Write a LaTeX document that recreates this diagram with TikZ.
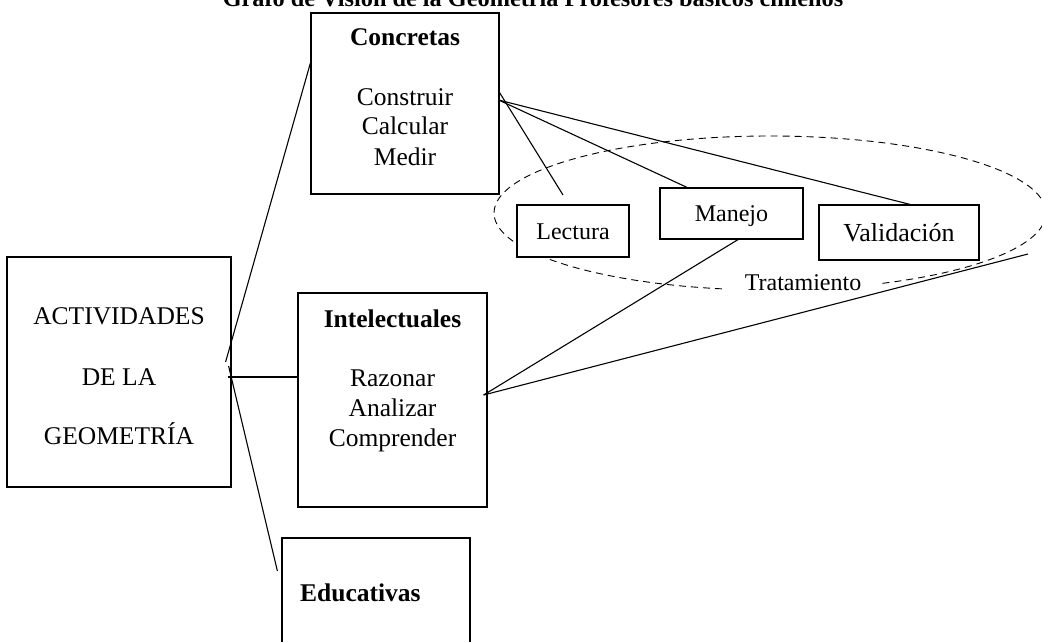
\documentclass[tikz,border=0pt]{standalone}
\usepackage{fontspec}
\setmainfont{Liberation Serif}
\begin{document}
\begin{tikzpicture}[x=1pt,y=-1pt,
  box/.style={draw, line width=1.2pt, fill=white, inner sep=0pt, rectangle},
  txt/.style={anchor=base, inner sep=0pt, font=\fontsize{25.5}{30}\selectfont},
  btxt/.style={anchor=base, inner sep=0pt, font=\fontsize{25.5}{30}\selectfont\bfseries},
  small/.style={font=\fontsize{24}{28}\selectfont, text height=16pt, text depth=0pt},
  link/.style={line width=1.1pt},
]
\useasboundingbox (0,0) rectangle (1042,642);

% title (partly cut off at the top, as in the reference)
\node[anchor=base, inner sep=0pt, font=\fontsize{24.3}{28}\selectfont\bfseries] (title) at (533,6.5)
  {Grafo de Visión de la Geometría Profesores básicos chilenos};

% dashed ellipse "Tratamiento"
\draw[line width=0.9pt, dash pattern=on 7pt off 5pt] (770,213) ellipse [x radius=276, y radius=77];

% boxes
\node[box, minimum width=188pt, minimum height=181pt] (conc) at (405,103.5) {};
\node[box, minimum width=224pt, minimum height=230pt] (act) at (119,372) {};
\node[box, minimum width=189pt, minimum height=214pt] (intel) at (392.5,400) {};
\node[box, minimum width=188pt, minimum height=142pt] (educ) at (376,609) {};
\node[box, small, minimum width=112pt, minimum height=52pt] (lect) at (573,231) {Lectura};
\node[box, small, minimum width=143pt, minimum height=51pt] (manejo) at (731.5,213.5) {Manejo};
\node[box, font=\fontsize{26}{30}\selectfont, text height=17pt, text depth=0pt,
      minimum width=160pt, minimum height=55pt] (valid) at (899,232.5) {Validación};

\node[anchor=base, fill=white, inner xsep=20pt, inner ysep=3pt,
      font=\fontsize{24}{28}\selectfont] (trat) at (803,290) {Tratamiento};

% free ends
\coordinate (lectend) at (563,195);
\coordinate (validend) at (1028,254);

% connectors
\draw[link] ([xshift=-6pt,yshift=10pt]act.east) -- ([yshift=40.5pt]conc.west);
\draw[link] ([xshift=-4pt,yshift=-5pt]act.east) -- ([yshift=23pt]intel.west);
\draw[link] ([xshift=-3pt,yshift=6pt]act.east) -- ([xshift=-4pt,yshift=38pt]educ.west);

\draw[link] ([xshift=-1pt,yshift=12.5pt]conc.east) -- (lectend);
\draw[link] ([xshift=-1pt,yshift=3.5pt]conc.east) -- ([xshift=-44.5pt]manejo.north);
\draw[link] ([xshift=-1pt,yshift=3.5pt]conc.east) -- ([xshift=11pt]valid.north);

\draw[link] ([xshift=-4pt,yshift=5pt]intel.east) -- ([xshift=6.5pt]manejo.south);
\draw[link] ([xshift=-4pt,yshift=5pt]intel.east) -- (validend);

% texts
\node[btxt] (tconc) at (405,46) {Concretas};
\node[txt] (c1) at (405,106) {Construir};
\node[txt] (c2) at (405,135) {Calcular};
\node[txt] (c3) at (405,165) {Medir};

\node[txt] (a1) at (119,324) {ACTIVIDADES};
\node[txt] (a2) at (119,385) {DE LA};
\node[txt] (a3) at (119,444) {GEOMETRÍA};

\node[btxt] (tintel) at (392.5,327) {Intelectuales};
\node[txt] (i1) at (392.5,386) {Razonar};
\node[txt] (i2) at (392.5,416) {Analizar};
\node[txt] (i3) at (392.5,446) {Comprender};

\node[btxt, anchor=base west] (teduc) at (300,601) {Educativas};
\end{tikzpicture}
\end{document}
